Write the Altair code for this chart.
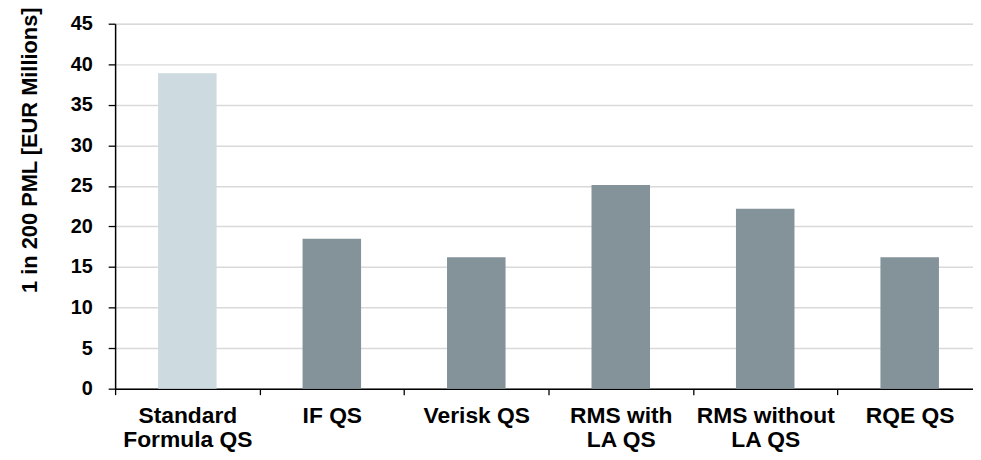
import altair as alt
import pandas as pd

categories = ["Standard\nFormula QS", "IF QS", "Verisk QS", "RMS with\nLA QS", "RMS without\nLA QS", "RQE QS"]
values = [38.9, 18.5, 16.2, 25.1, 22.2, 16.2]
bar_colors = ["#cddadf", "#849399", "#849399", "#849399", "#849399", "#849399"]
y_ticks = [0, 5, 10, 15, 20, 25, 30, 35, 40, 45]

df = pd.DataFrame({"cat": categories, "val": values})

font = "Liberation Sans"

chart = alt.Chart(df).mark_bar(width=alt.RelativeBandSize(0.405)).encode(
    x=alt.X(
        "cat:N",
        sort=categories,
        scale=alt.Scale(paddingInner=0, paddingOuter=0, rangeMin=0, rangeMax=874),
        axis=alt.Axis(
            title=None,
            labelAngle=0,
            labelExpr="split(datum.label, '\\n')",
            labelFont=font,
            labelFontSize=23,
            labelFontWeight="bold",
            labelColor="#000000",
            labelLineHeight=24,
            labelPadding=10,
            labelBaseline="top",
            tickBand="extent",
            tickSize=6,
            tickColor="#000000",
            tickWidth=1.3,
            domainColor="#000000",
            domainWidth=1.5,
            grid=False,
        ),
    ),
    y=alt.Y(
        "val:Q",
        scale=alt.Scale(domain=[0, 45], nice=False),
        axis=alt.Axis(
            values=y_ticks,
            title="1 in 200 PML [EUR Millions]",
            titleFont=font,
            titleFontSize=22,
            titleFontWeight="bold",
            titleColor="#000000",
            titleAngle=-90,
            titleAlign="center",
            titleBaseline="middle",
            titleX=-86,
            titleY=127,
            labelFont=font,
            labelFontSize=20,
            labelFontWeight="bold",
            labelColor="#000000",
            labelPadding=16,
            tickSize=7,
            tickColor="#000000",
            tickWidth=1.3,
            domainColor="#000000",
            domainWidth=1.5,
            gridColor="#d9d9d9",
            gridWidth=1.5,
        ),
    ),
    color=alt.Color(
        "cat:N",
        scale=alt.Scale(domain=categories, range=bar_colors),
        legend=None,
    ),
).properties(
    width=865,
    height=368,
    autosize=alt.AutoSizeParams(type="none"),
    padding={"left": 108, "top": 14, "right": 0, "bottom": 62},
).configure_view(stroke=None).configure(background="#ffffff")

chart.save("out.html", embed_options={"renderer": "svg", "actions": False})
